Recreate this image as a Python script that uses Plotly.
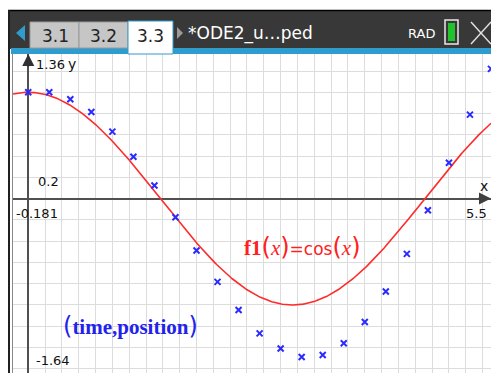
import numpy as np
import plotly.graph_objects as go

# ---- data ----
time = [0.0, 0.25, 0.5, 0.75, 1.0, 1.25, 1.5, 1.75, 2.0, 2.25, 2.5, 2.75, 3.0,
        3.25, 3.5, 3.75, 4.0, 4.25, 4.5, 4.75, 5.0, 5.25, 5.5]
position = [1.0, 1.0, 0.934, 0.814, 0.63, 0.393, 0.123, -0.176, -0.488, -0.783,
            -1.047, -1.267, -1.41, -1.49, -1.47, -1.36, -1.16, -0.874, -0.52,
            -0.11, 0.337, 0.79, 1.22]
x_range = [-0.181, 5.5]
y_range = [-1.64, 1.36]
tab_labels = ["3.1", "3.2", "3.3"]
doc_title = "*ODE2_u…ped"

W, H = 491, 373
L, T = 13, 54
PW, PH = W - L, H - T


def px(x):
    return (x - L) / PW


def py(y):
    return (H - y) / PH


xs = np.linspace(x_range[0], x_range[1], 400)
fig = go.Figure()
fig.add_trace(go.Scatter(x=xs, y=np.cos(xs), mode="lines",
                         line=dict(color="#ff2a2a", width=1.6),
                         hoverinfo="skip", showlegend=False))
fig.add_trace(go.Scatter(x=time, y=position, mode="markers",
                         marker=dict(symbol="x-thin", size=6,
                                     line=dict(color="#2b2bff", width=2)),
                         showlegend=False, cliponaxis=False))

axis_common = dict(showgrid=True, gridcolor="#dcdcdc", gridwidth=1, dtick=0.2,
                   tick0=0, showticklabels=False, ticks="", zeroline=True,
                   zerolinecolor="#505050", zerolinewidth=2, showline=False,
                   fixedrange=True)
fig.update_xaxes(range=x_range, **axis_common)
fig.update_yaxes(range=y_range, **axis_common)

shapes = []


def rect(x0, y0, x1, y1, fill, line_color=None, lw=0):
    shapes.append(dict(type="rect", xref="paper", yref="paper",
                       x0=px(x0), x1=px(x1), y0=py(y1), y1=py(y0),
                       fillcolor=fill, line=dict(color=line_color or fill, width=lw),
                       layer="above"))


def line(x0, y0, x1, y1, color, w):
    shapes.append(dict(type="line", xref="paper", yref="paper",
                       x0=px(x0), x1=px(x1), y0=py(y0), y1=py(y1),
                       line=dict(color=color, width=w), layer="above"))


def path(points, fill):
    d = "M " + " L ".join(f"{px(a)},{py(b)}" for a, b in points) + " Z"
    shapes.append(dict(type="path", xref="paper", yref="paper", path=d,
                       fillcolor=fill, line=dict(color=fill, width=0), layer="above"))


# frame & header
rect(8, 10, 491, 49, "#383838")
line(8, 10.5, 491, 10.5, "#000000", 1.5)
rect(8, 10, 10, 373, "#202020")
line(12.5, 48, 12.5, 373, "#8a8a8a", 1)
rect(11, 48, 491, 54, "#2e9ccc")
rect(30, 22, 79, 48, "#c6c6c6", "#9a9a9a", 1)
rect(79, 22, 128, 48, "#c6c6c6", "#9a9a9a", 1)
rect(128, 21, 173, 54, "#ffffff", "#2e9ccc", 1)
path([(16, 33), (25, 25), (25, 41)], "#2e9ccc")
path([(177, 27), (183, 33), (177, 39)], "#9a9a9a")
# battery
rect(445, 20, 458, 44, "#383838", "#e8e8e8", 1.5)
rect(448, 23, 455, 41, "#22c22c")
# close X
line(471, 22, 491, 44, "#e0e0e0", 1.5)
line(471, 44, 491, 22, "#e0e0e0", 1.5)

anns = []


def text(x, y, s, size, color, xanchor="left", family="DejaVu Sans"):
    anns.append(dict(x=px(x), y=py(y), xref="paper", yref="paper", text=s,
                     showarrow=False, xanchor=xanchor, yanchor="middle",
                     font=dict(family=family, size=size, color=color)))


for lbl, cx in zip(tab_labels, [55, 103, 150]):
    text(cx, 36, lbl, 17, "#222222", "center")
text(186, 33, doc_title, 17, "#ffffff")
text(421, 33, "RAD", 13, "#ffffff", "center")

text(34, 65, "1.36", 13, "#111111")
text(66, 64, "y", 14, "#111111")
text(36, 181, "0.2", 13, "#111111")
text(14, 214, "-0.181", 13, "#111111")
text(489, 213, "5.5", 13, "#111111", "right")
text(484, 186, "x", 14, "#111111", "center")
text(34, 360, "-1.64", 13, "#111111")

P = "<span style='font-family:DejaVu Sans;font-size:24px;font-weight:normal'>%s</span>"
text(242, 247,
     "<b>f1</b>" + P % "(" + "<i>x</i>" + P % ")"
     + "<span style='font-family:DejaVu Sans;font-size:17px'>=cos</span>"
     + P % "(" + "<i>x</i>" + P % ")",
     21, "#ff2020", family="Liberation Serif")
text(61, 326, P % "(" + "<b>time,position</b>" + P % ")", 21, "#2222ee",
     family="Liberation Serif")

# axis arrows
anns.append(dict(x=x_range[1], y=0, xref="x", yref="y", ax=-14, ay=0, text="",
                 showarrow=True, arrowhead=2, arrowsize=1.2, arrowwidth=2,
                 arrowcolor="#404040"))
anns.append(dict(x=0, y=y_range[1], xref="x", yref="y", ax=0, ay=14, text="",
                 showarrow=True, arrowhead=2, arrowsize=1.2, arrowwidth=2,
                 arrowcolor="#303030"))

fig.update_layout(width=W, height=H, margin=dict(l=L, r=0, t=T, b=0, pad=0),
                  paper_bgcolor="#ffffff", plot_bgcolor="#ffffff",
                  shapes=shapes, annotations=anns, showlegend=False)
fig.write_html("out.html", config={"displayModeBar": False},
               post_script="document.body.style.margin='0';document.body.style.padding='0';")
